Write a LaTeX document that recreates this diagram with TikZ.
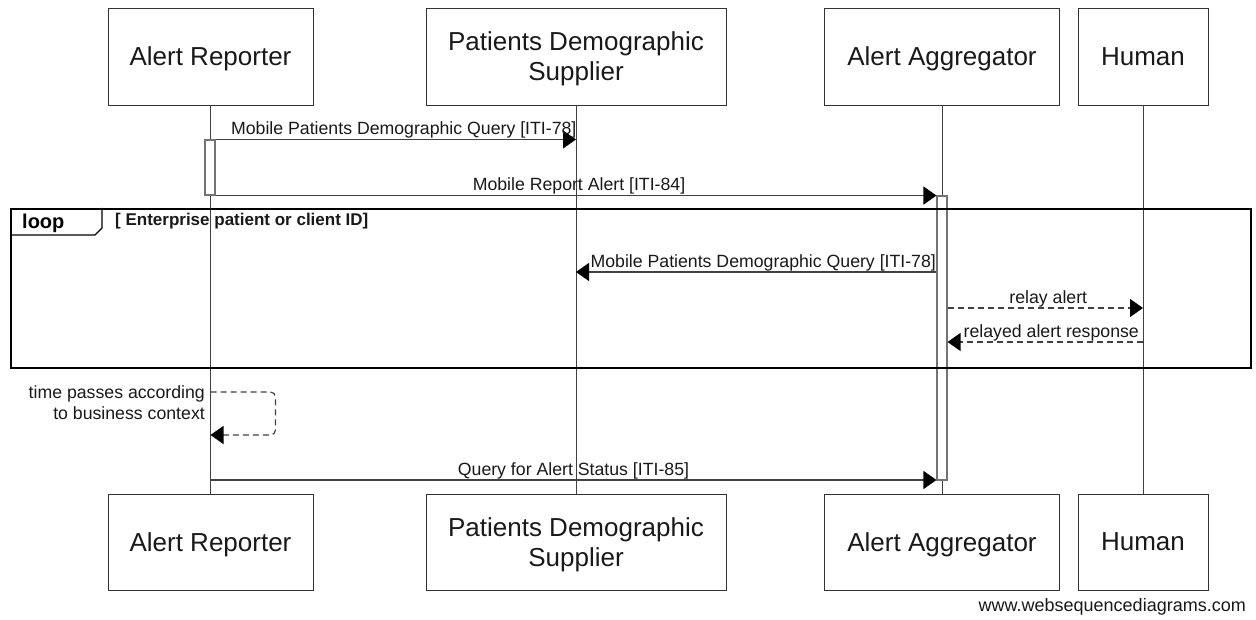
\documentclass[tikz,border=0pt]{standalone}
\usepackage{fontspec}
\setmainfont{Liberation Sans}
\usetikzlibrary{arrows.meta}
\begin{document}
\begin{tikzpicture}[x=1pt,y=-1pt,
  actor/.style={draw=black!80, line width=0.9pt, align=center, inner sep=0pt, text depth=0pt,
    font=\fontsize{26}{30}\selectfont, text=black!90},
  life/.style={draw=black!75, line width=0.9pt},
  act/.style={draw=black!55, fill=white, line width=1.1pt, inner sep=0pt, minimum width=10pt},
  msg/.style={draw=black!75, line width=1.2pt, -{Triangle[length=13pt,width=18pt,color=black]}},
  rmsg/.style={msg, dash pattern=on 6pt off 4pt},
  lbl/.style={font=\fontsize{17.7}{20}\selectfont, text=black!90, inner sep=0.5pt, anchor=south},
  frame/.style={draw=black, line width=2pt},
]
\useasboundingbox (0,0) rectangle (1256,620);
% actors
\node[actor, minimum width=205pt, minimum height=97pt] (ar)  at (210.5,56.5) {Alert Reporter};
\node[actor, minimum width=300pt, minimum height=97pt] (pds) at (576,56.5) {Patients Demographic\\Supplier};
\node[actor, minimum width=235pt, minimum height=97pt] (aa)  at (942,56.5) {Alert Aggregator};
\node[actor, minimum width=130pt, minimum height=97pt] (hu)  at (1143,56.5) {Human};
\node[actor, minimum width=205pt, minimum height=96pt] (arb)  at (210.5,542) {Alert Reporter};
\node[actor, minimum width=300pt, minimum height=96pt] (pdsb) at (576,542) {Patients Demographic\\Supplier};
\node[actor, minimum width=235pt, minimum height=96pt] (aab)  at (942,542) {Alert Aggregator};
\node[actor, minimum width=130pt, minimum height=96pt] (hub)  at (1143,542) {Human};
% lifelines
\draw[life] (ar.south) -- (arb.north);
\draw[life] (pds.south) -- (pdsb.north);
\draw[life] (aa.south) -- (aab.north);
\draw[life] (hu.south) -- (hub.north);
% activations
\node[act, minimum height=55pt] (act1) at (210,167.5) {};
\node[act, minimum height=284pt] (act2) at (942,338) {};
% y levels
\coordinate (y4) at (0,272);
\coordinate (y5) at (0,308);
\coordinate (y6) at (0,342);
\coordinate (y7) at (0,392);
\coordinate (y7b) at (0,435);
\coordinate (y8) at (0,480);
% messages
\draw[msg] (act1.north east) -- (act1.north east -| pds.south)
  node[lbl, midway, xshift=8pt] {Mobile Patients Demographic Query [ITI-78]};
\draw[msg] (act1.south east) -- (act1.south east -| act2.west)
  node[lbl, midway, xshift=3pt] {Mobile Report Alert [ITI-84]};
\draw[msg] (act2.west |- y4) -- (pds.south |- y4)
  node[lbl, midway, xshift=7pt] {Mobile Patients Demographic Query [ITI-78]};
\draw[rmsg] (act2.east |- y5) -- (hu.south |- y5)
  node[lbl, midway, xshift=3pt] {relay alert};
\draw[rmsg] (hu.south |- y6) -- (act2.east |- y6)
  node[lbl, midway, xshift=6pt] {relayed alert response};
\draw[rmsg, rounded corners=5pt] (ar.south |- y7) -- ++(65,0) -- ++(0,43) -- (ar.south |- y7b);
\node[font=\fontsize{17.7}{21}\selectfont, text=black!90, align=right, anchor=east, inner sep=0pt] (note) at (205,402.5)
  {time passes according\\to business context};
\draw[msg] (ar.south |- y8) -- (act2.west |- y8)
  node[lbl, midway] {Query for Alert Status [ITI-85]};
% loop frame
\node[frame, minimum width=1240pt, minimum height=159pt, inner sep=0pt] (loop) at (631,288.5) {};
\draw[line width=1.3pt] (loop.north west) ++(0,27) -- ++(85,0) -- ++(7,-7) -- ++(0,-20);
\node[font=\bfseries\fontsize{20}{22}\selectfont, anchor=west, inner sep=0pt] (looplbl) at (22,223) {loop};
\node[font=\bfseries\fontsize{17}{20}\selectfont, anchor=west, inner sep=0pt, text=black!90] (cond) at (115,221) {[ Enterprise patient or client ID]};
% footer
\node[font=\fontsize{18}{20}\selectfont, anchor=east, inner sep=0pt, text=black!90] (footer) at (1246,607) {www.websequencediagrams.com};
\end{tikzpicture}
\end{document}
